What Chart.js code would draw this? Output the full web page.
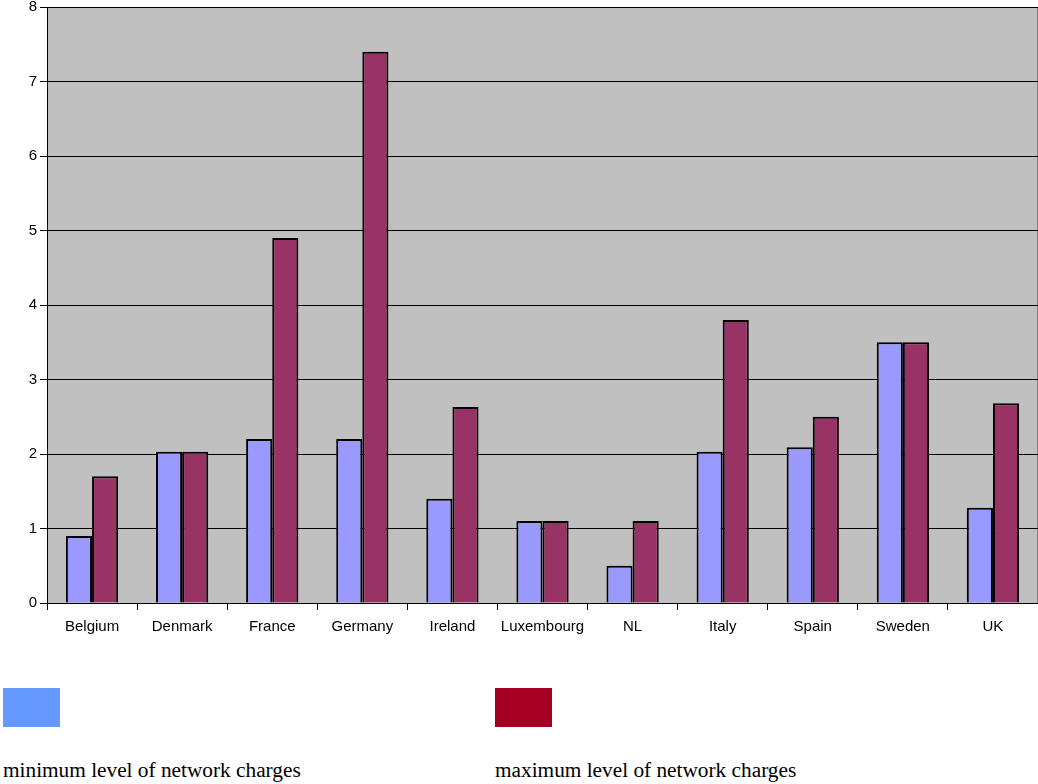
<!DOCTYPE html>
<html>
<head>
<meta charset="utf-8">
<script src="https://cdn.jsdelivr.net/npm/chart.js@4/dist/chart.umd.min.js"></script>
<style>
	body { margin: 0; background: #fff; width: 1038px; height: 784px; position: relative; overflow: hidden; }
	#chartBox { position: absolute; left: 0; top: 0; width: 1038px; height: 650px; }
	.key { position: absolute; width: 57px; height: 39px; top: 688px; }
	.keyText { position: absolute; top: 758px; font-family: "Liberation Serif", "Times New Roman", serif; font-size: 21.3px; color: #000; white-space: nowrap; }
</style>
</head>
<body>
<div id="chartBox"><canvas id="chargesChart"></canvas></div>
<div class="key" style="left:3px; background:#6699FF;"></div>
<div class="key" style="left:495px; background:#A50021;"></div>
<div class="keyText" style="left:3px;">minimum level of network charges</div>
<div class="keyText" style="left:495px;">maximum level of network charges</div>

<script>
// Countries and the min / max network charge levels
var countries = ['Belgium', 'Denmark', 'France', 'Germany', 'Ireland', 'Luxembourg', 'NL', 'Italy', 'Spain', 'Sweden', 'UK'];
var minCharges = [0.9, 2.03, 2.2, 2.2, 1.4, 1.1, 0.5, 2.03, 2.09, 3.5, 1.28];
var maxCharges = [1.7, 2.03, 4.9, 7.4, 2.63, 1.1, 1.1, 3.8, 2.5, 3.5, 2.68];
var yTicks = [0, 1, 2, 3, 4, 5, 6, 7, 8];

// Grey plot background
var plotBackground = {
	id: 'plotBackground',
	beforeDraw: function (chart) {
		var a = chart.chartArea, ctx = chart.ctx;
		ctx.save();
		ctx.fillStyle = '#C0C0C0';
		ctx.fillRect(a.left, a.top, a.right - a.left, a.bottom - a.top);
		ctx.strokeStyle = '#808080';
		ctx.lineWidth = 1;
		ctx.beginPath();
		ctx.moveTo(a.right - 0.5, a.top);
		ctx.lineTo(a.right - 0.5, a.bottom);
		ctx.stroke();
		ctx.restore();
	}
};

var tickFont = { family: '"Liberation Sans", Arial, sans-serif', size: 15 };
// small line height on y labels so the top label does not push the plot down
var yTickFont = { family: '"Liberation Sans", Arial, sans-serif', size: 15, lineHeight: 0.5 };

new Chart(document.getElementById('chargesChart'), {
	type: 'bar',
	data: {
		labels: countries,
		datasets: [
			{
				label: 'minimum level of network charges',
				data: minCharges,
				backgroundColor: '#9999FF',
				borderColor: '#000000',
				borderWidth: 2,
				categoryPercentage: 0.58,
				barPercentage: 1.0
			},
			{
				label: 'maximum level of network charges',
				data: maxCharges,
				backgroundColor: '#993366',
				borderColor: '#000000',
				borderWidth: 2,
				categoryPercentage: 0.58,
				barPercentage: 1.0
			}
		]
	},
	options: {
		responsive: true,
		maintainAspectRatio: false,
		animation: false,
		layout: { padding: { top: 7, right: 0, left: 0, bottom: 0 } },
		plugins: {
			legend: { display: false },
			tooltip: { enabled: false }
		},
		scales: {
			x: {
				offset: true,
				grid: { display: true, drawOnChartArea: false, drawTicks: true, tickLength: 7, color: '#000', offset: true },
				border: { display: true, color: '#000', width: 1 },
				ticks: { color: '#000', font: tickFont, padding: 8, maxRotation: 0, autoSkip: false },
				afterFit: function (scale) { scale.height = 47; }
			},
			y: {
				min: 0,
				max: 8,
				afterBuildTicks: function (scale) {
					scale.ticks = yTicks.map(function (v) { return { value: v }; });
				},
				grid: { color: '#000', lineWidth: 1, drawTicks: true, tickLength: 7 },
				border: { display: true, color: '#000', width: 1 },
				ticks: { color: '#000', font: yTickFont, padding: 3 },
				afterFit: function (scale) { scale.width = 47; }
			}
		}
	},
	plugins: [plotBackground]
});
</script>
</body>
</html>
